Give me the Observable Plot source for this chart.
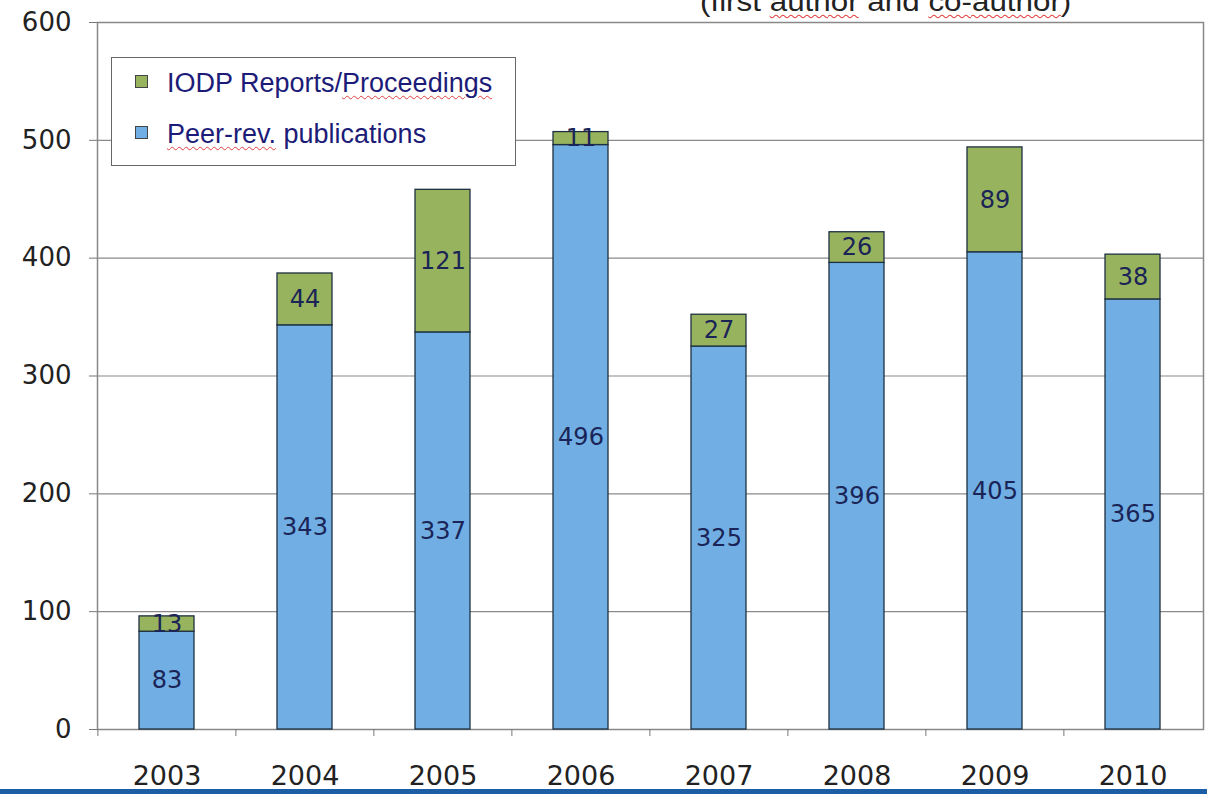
<!DOCTYPE html>
<html>
<head>
<meta charset="utf-8">
<script src="https://cdn.jsdelivr.net/npm/d3@7"></script>
<script src="https://cdn.jsdelivr.net/npm/@observablehq/plot@0.6"></script>
<style>
  html, body { margin: 0; padding: 0; background: #fff; overflow: hidden; }
  #wrap { position: relative; width: 1207px; height: 794px; }
  #title { position: absolute; left: 700px; top: -14px; font: 28px "Liberation Sans", Arial, sans-serif; color: #222; white-space: nowrap; transform: scaleX(1.12); transform-origin: left top; }
  .sp { text-decoration: underline wavy #e04040; text-decoration-thickness: 1px; text-underline-offset: 3px; }
  #legend { position: absolute; left: 111px; top: 57px; width: 403px; height: 107px; border: 1px solid #666; background: #fff; font: 27px "Liberation Sans", Arial, sans-serif; color: #1c1c78; }
  .item { position: absolute; left: 23px; white-space: nowrap; }
  .sw { display: inline-block; width: 11px; height: 11px; border: 1px solid #444; margin-right: 19px; vertical-align: 4px; }
  #bottombar { position: absolute; left: 0; top: 789px; width: 1207px; height: 5px; background: #1b5ea6; }
</style>
</head>
<body>
<div id="wrap">
  <div id="chart"></div>
  <div id="title">(first <span class="sp">author</span> and <span class="sp">co-author</span>)</div>
  <div id="legend">
    <div class="item" style="top:10px"><span class="sw" style="background:#98b35e"></span>IODP Reports/<span class="sp">Proceedings</span></div>
    <div class="item" style="top:61px"><span class="sw" style="background:#70aee3"></span><span class="sp">Peer-rev.</span> publications</div>
  </div>
  <div id="bottombar"></div>
</div>
<script>
const years = ["2003", "2004", "2005", "2006", "2007", "2008", "2009", "2010"];
const peerReviewed = [83, 343, 337, 496, 325, 396, 405, 365];
const iodpReports = [13, 44, 121, 11, 27, 26, 89, 38];
const seriesNames = ["Peer-rev. publications", "IODP Reports/Proceedings"];
const seriesColors = ["#70aee3", "#98b35e"];
const yTicks = [0, 100, 200, 300, 400, 500, 600];

const data = [];
years.forEach((y, i) => {
  data.push({year: y, series: seriesNames[0], value: peerReviewed[i]});
  data.push({year: y, series: seriesNames[1], value: iodpReports[i]});
});

const W = 1207, mL = 97, mR = 4;
const step = (W - mL - mR) / years.length;

const chart = Plot.plot({
  width: W,
  height: 794,
  marginLeft: mL,
  marginRight: mR,
  marginTop: 22,
  marginBottom: 65,
  style: {background: "transparent", overflow: "visible"},
  x: {domain: years, paddingInner: 0.6, paddingOuter: 0.3, label: null},
  y: {domain: [0, 600], label: null},
  color: {domain: seriesNames, range: seriesColors},
  marks: [
    Plot.gridY(yTicks, {stroke: "#8a8a8a", strokeOpacity: 1, strokeWidth: 1.2}),
    Plot.frame({stroke: "#888", strokeWidth: 1.5}),
    Plot.axisY({ticks: yTicks, tickSize: 8, tickPadding: 18, fontSize: 26, fontFamily: "DejaVu Sans, Verdana, sans-serif", color: "#222", stroke: "#777", label: null}),
    Plot.axisX({tickSize: 7, tickFormat: () => "", dx: -step / 2, stroke: "#777", label: null}),
    Plot.axisX({tickSize: 0, tickPadding: 36, fontSize: 27, fontFamily: "DejaVu Sans, Verdana, sans-serif", color: "#222", label: null}),
    Plot.barY(data, Plot.stackY({x: "year", y: "value", fill: "series", order: seriesNames, stroke: "#1e3040", strokeWidth: 1.3})),
    Plot.text(data, Plot.stackY({x: "year", y: "value", z: "series", order: seriesNames, text: d => String(d.value), fontSize: 24, fontFamily: "DejaVu Sans, Verdana, sans-serif", fill: "#1a2456"}))
  ]
});
document.getElementById("chart").appendChild(chart);
</script>
</body>
</html>
